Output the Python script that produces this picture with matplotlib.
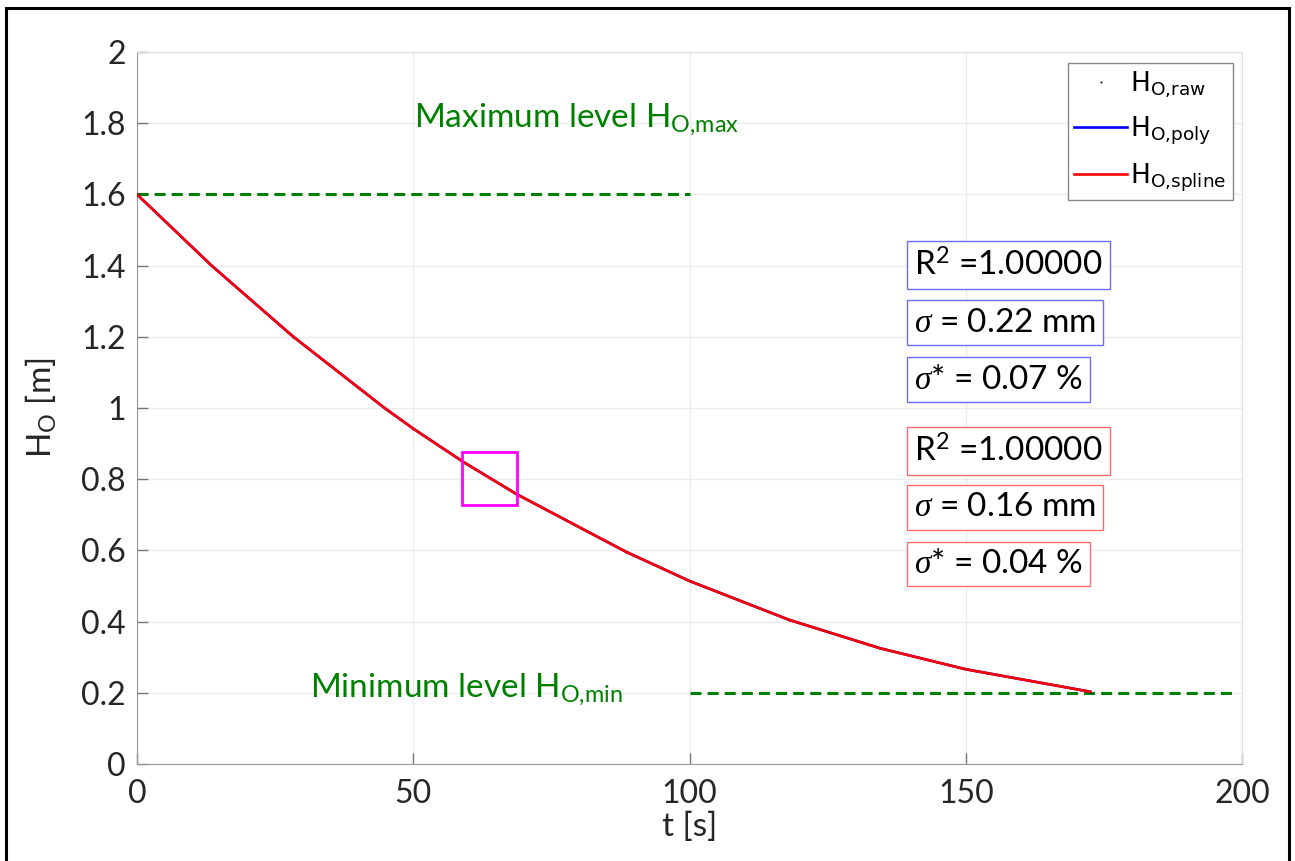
import numpy as np
import matplotlib.pyplot as plt
from matplotlib.patches import Rectangle

plt.rcParams['font.family'] = ['Lato', 'DejaVu Sans']
plt.rcParams['mathtext.fontset'] = 'custom'
plt.rcParams['mathtext.rm'] = 'Lato'
plt.rcParams['mathtext.it'] = 'Liberation Serif:italic'
plt.rcParams['mathtext.sf'] = 'DejaVu Sans'
plt.rcParams['mathtext.default'] = 'regular'

# level over time during draining
t = [0, 13.5, 28.3, 44.8, 50.0, 59.1, 68.7, 88.5, 100.0, 118.0, 134.5, 150.0, 172.5]
h = [1.600, 1.400, 1.200, 1.000, 0.942, 0.848, 0.758, 0.596, 0.514, 0.405, 0.325, 0.266,
     0.203]

h_max = 1.6
h_min = 0.2
t_split = 100
t_end = 199

# selected point window
win_t = [58.8, 68.8]
win_h = [0.727, 0.876]

stats_poly = ['R$^2$ =1.00000', r'$\mathit{\sigma}$ = 0.22 mm', r'$\mathit{\sigma}$* = 0.07 %']
stats_spline = ['R$^2$ =1.00000', r'$\mathit{\sigma}$ = 0.16 mm', r'$\mathit{\sigma}$* = 0.04 %']

xticks = [0, 50, 100, 150, 200]
yticks = [0, 0.2, 0.4, 0.6, 0.8, 1, 1.2, 1.4, 1.6, 1.8, 2]
yticklabels = ['0', '0.2', '0.4', '0.6', '0.8', '1', '1.2', '1.4', '1.6', '1.8', '2']

fig = plt.figure(figsize=(12.95, 8.61), dpi=100)
ax = fig.add_axes([0.1058, 0.1127, 0.8533, 0.8269])

green = '#008000'
ax.plot([0, t_split], [h_max, h_max], color=green, lw=2.2, dashes=(3.6, 2.0), zorder=2)
ax.plot([t_split, t_end], [h_min, h_min], color=green, lw=2.2, dashes=(3.6, 2.0), zorder=2)

ax.plot(t, h, '.', color='k', ms=1, label=r'$\mathsf{H_{O{,}raw}}$', zorder=3)
ax.plot(t, h, '-', color='b', lw=1.9, label=r'$\mathsf{H_{O{,}poly}}$', zorder=3)
ax.plot(t, h, '-', color='r', lw=1.9, label=r'$\mathsf{H_{O{,}spline}}$', zorder=4,
        solid_joinstyle='round')

ax.add_patch(Rectangle((win_t[0], win_h[0]), win_t[1] - win_t[0], win_h[1] - win_h[0],
                       fill=False, edgecolor='#ff00ff', lw=2, zorder=5))

ax.text(50.1, 1.789, 'Maximum level H$_{O{,}max}$', color=green, fontsize=24, va='baseline')
ax.text(31.3, 0.188, 'Minimum level H$_{O{,}min}$', color=green, fontsize=24, va='baseline')

ax.set_xlim(0, 200)
ax.set_ylim(0, 2)
ax.set_xticks(xticks)
ax.set_yticks(yticks)
ax.set_yticklabels(yticklabels)
ax.tick_params(direction='in', length=8, width=1, color='#777777', labelcolor='#262626',
               labelsize=23)
ax.tick_params(axis='x', pad=11)
ax.tick_params(axis='y', pad=8)
ax.grid(True, color='#ebebeb', lw=1)
ax.set_axisbelow(True)
for side in ['left', 'bottom']:
    ax.spines[side].set_color('#999999')
for side in ['top', 'right']:
    ax.spines[side].set_color('#dddddd')

ax.set_xlabel('t [s]', fontsize=24, color='#262626', labelpad=2)
ax.set_ylabel('H$_O$ [m]', fontsize=24, color='#262626', labelpad=16)

leg = ax.legend(loc='upper right', bbox_to_anchor=(0.9915, 0.9845), fontsize=19,
                fancybox=False, edgecolor='#888888', framealpha=1, handlelength=2.0,
                handletextpad=0.1, borderpad=0.25, labelspacing=0.55, borderaxespad=0)
leg.get_frame().set_linewidth(1)

# statistics boxes
ys_poly = [0.6922, 0.6254, 0.5592]
ys_spline = [0.4762, 0.4106, 0.3450]
for s, y in zip(stats_poly, ys_poly):
    fig.text(0.7058, y, s, fontsize=24, color='k', va='center', ha='left',
             bbox=dict(boxstyle='square,pad=0.22', fc='white', ec='#6b6bff', lw=1))
for s, y in zip(stats_spline, ys_spline):
    fig.text(0.7058, y, s, fontsize=24, color='k', va='center', ha='left',
             bbox=dict(boxstyle='square,pad=0.22', fc='white', ec='#ff6b6b', lw=1))

# outer frame
fig.patches.append(Rectangle((6 / 1295, -0.02), 1283 / 1295, 1.02 - 7.5 / 861,
                             transform=fig.transFigure, fill=False, edgecolor='k',
                             lw=2.2, clip_on=False))

fig.savefig('out.png', dpi=100)
